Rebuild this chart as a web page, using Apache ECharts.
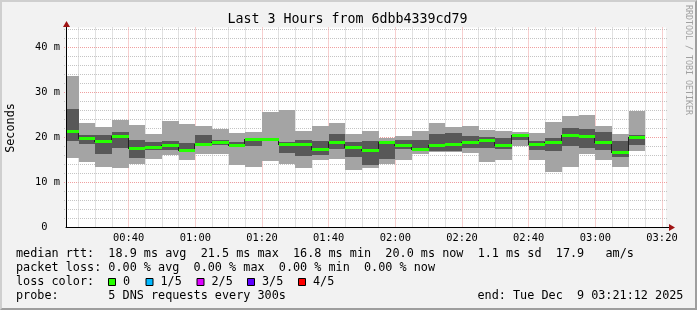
<!DOCTYPE html>
<html><head><meta charset="utf-8">
<script src="https://cdn.jsdelivr.net/npm/echarts@6/dist/echarts.min.js"></script>
<style>
html,body{margin:0;padding:0;background:#f2f2f2;}
#wrap{position:relative;width:697px;height:310px;overflow:hidden;}
#chart{position:absolute;left:0;top:0;width:697px;height:310px;}
#frame{position:absolute;left:0;top:0;width:697px;height:310px;box-sizing:border-box;border-top:2px solid #cfcfcf;border-left:2px solid #cfcfcf;border-right:2px solid #9e9e9e;border-bottom:2px solid #9e9e9e;pointer-events:none;}
</style></head><body>
<div id="wrap"><div id="chart"></div><div id="frame"></div></div>
<script>
// ---- data (ms) ----
const endTime = "03:21:12";
const spanMinutes = 180;
const stepMinutes = 5;
const barEnd = ["00:25","00:30","00:35","00:40","00:45","00:50","00:55","01:00","01:05","01:10","01:15","01:20","01:25","01:30","01:35","01:40","01:45","01:50","01:55","02:00","02:05","02:10","02:15","02:20","02:25","02:30","02:35","02:40","02:45","02:50","02:55","03:00","03:05","03:10","03:15"];
const pingMin = [15.5,14.6,13.5,13.2,14.0,15.3,16.1,14.9,16.4,16.4,13.9,13.5,14.8,14.1,13.3,14.9,15.3,12.8,13.2,14.0,14.9,16.3,16.8,16.8,16.6,14.6,15.0,18.0,14.9,12.4,13.5,16.3,14.9,13.5,17.1];
const ping2   = [19.3,18.6,16.4,17.7,15.5,17.2,17.2,16.9,18.2,18.3,18.0,18.1,19.2,16.6,15.9,16.1,17.5,15.6,13.9,15.3,17.5,17.0,16.9,16.9,17.7,17.6,17.5,19.4,17.2,17.1,18.1,17.7,17.2,15.7,18.3];
const median  = [21.5,19.8,19.2,20.3,17.6,17.9,18.3,17.2,18.6,18.9,18.3,19.6,19.7,18.6,18.5,17.5,18.9,17.8,17.3,18.9,18.4,17.4,18.4,18.6,18.9,19.4,18.3,20.6,18.6,19.1,20.5,20.3,19.0,16.8,20.0];
const ping4   = [26.3,20.6,20.6,21.2,19.4,19.0,19.2,18.8,20.6,19.4,19.0,19.8,19.9,19.1,19.5,19.2,20.8,19.0,19.2,19.1,19.5,19.4,20.8,21.0,20.4,20.2,19.9,20.7,19.2,19.9,22.0,21.8,21.2,19.2,20.5];
const pingMax = [33.6,23.2,22.3,23.9,22.8,20.8,23.7,23.1,22.6,21.9,21.0,21.2,25.7,26.0,21.4,22.5,23.2,20.8,21.4,19.8,20.3,21.4,23.2,22.3,22.5,21.7,21.4,21.2,20.9,23.4,24.7,25.0,22.5,20.8,25.9];
const loss    = [0,0,0,0,0,0,0,0,0,0,0,0,0,0,0,0,0,0,0,0,0,0,0,0,0,0,0,0,0,0,0,0,0,0,0];
const xTickLabels = ["00:40","01:00","01:20","01:40","02:00","02:20","02:40","03:00","03:20"];
const yTickValues = [0,10,20,30,40];
const yMaxValue = 44.44;
const lossLabels = ["0","1/5","2/5","3/5","4/5"];
const lossColors = ["#26ff00","#00b8ff","#dd00ff","#5e00ff","#ff0000"];

// ---- helpers ----
const toMin = s => { const p = s.split(':').map(Number); return p[0]*60 + p[1] + (p[2]||0)/60; };
const endMin = toMin(endTime);
const startMin = endMin - spanMinutes;
const fmt = v => { const m = Math.round(v); return String(Math.floor(m/60)).padStart(2,'0') + ':' + String(m%60).padStart(2,'0'); };
const MONO = "'DejaVu Sans Mono'";
const smokeOuter = '#a4a4a4', smokeInner = '#585858';
const majorGrid = '#f0a0a0', minorGrid = '#c4c4c4';

const barData = barEnd.map((e,i) => {
  const t1 = toMin(e);
  return [t1 - stepMinutes, t1, pingMin[i], ping2[i], median[i], ping4[i], pingMax[i],
          i < median.length-1 ? median[i+1] : median[i], loss[i], i < median.length-1 ? 1 : 0];
});

const majorX = xTickLabels.map(toMin);
const vGrid = [];
for (let t = Math.ceil(startMin/stepMinutes)*stepMinutes; t <= endMin; t += stepMinutes) {
  vGrid.push([t, 0, majorX.indexOf(t) >= 0 ? 1 : 0]);
}
const hGrid = [];
for (let v = 2; v <= yMaxValue; v += 2) {
  hGrid.push([startMin, v, v % 10 === 0 ? 1 : 0]);
}

const xr = (api, t) => Math.round(api.coord([t, 0])[0]);
const yr = (api, v) => Math.round(api.coord([startMin, v])[1]);
const crisp = c => Math.round(c - 0.5) + 0.5;

const chart = echarts.init(document.getElementById('chart'), null, {renderer:'canvas'});

const graphics = [];
function txt(text, x, y, size, opts) {
  opts = opts || {};
  graphics.push({
    type:'text', x:x, y:y, rotation: opts.rotation || 0, z:100, silent:true,
    style:{ text:text, x:0, y:0, font: size + 'px ' + MONO, fill: opts.fill || '#000',
      align: opts.align || 'left', verticalAlign:'middle', textAlign: opts.align || 'left', textVerticalAlign:'middle' }
  });
}
txt('Last 3 Hours from 6dbb4339cd79', 347.5, 19.5, 13.3, {align:'center'});
txt('Seconds', 11, 128, 11.8, {align:'center', rotation: Math.PI/2});
txt('RRDTOOL / TOBI OETIKER', 688, 60, 8.3, {align:'center', rotation: -Math.PI/2, fill:'#a0a0a0'});
txt('median rtt:  18.9 ms avg  21.5 ms max  16.8 ms min  20.0 ms now  1.1 ms sd  17.9   am/s', 16, 254.3, 11.8);
txt('packet loss: 0.00 % avg  0.00 % max  0.00 % min  0.00 % now', 16, 268.3, 11.8);
txt('loss color:', 16, 282.3, 11.8);
const boxX = [108, 145.5, 196.5, 247, 298];
lossLabels.forEach((l, i) => {
  graphics.push({type:'rect', z:100, silent:true, shape:{x:boxX[i]+0.5, y:278.5, width:7, height:7},
    style:{fill: lossColors[i], stroke:'#000', lineWidth:1}});
  txt(l, boxX[i] + 15, 282.3, 11.8);
});
txt('probe:       5 DNS requests every 300s', 16, 296, 11.8);
txt('end: Tue Dec  9 03:21:12 2025', 477.5, 296, 11.8);
// axis extensions + arrows
graphics.push({type:'line', z:100, silent:true, shape:{x1:666, y1:227.5, x2:671, y2:227.5}, style:{stroke:'#000', lineWidth:1}});
graphics.push({type:'polygon', z:101, silent:true, shape:{points:[[669,224],[675,227.5],[669,231]]}, style:{fill:'#a01414'}});
graphics.push({type:'line', z:100, silent:true, shape:{x1:66.5, y1:27.5, x2:66.5, y2:24}, style:{stroke:'#000', lineWidth:1}});
graphics.push({type:'polygon', z:101, silent:true, shape:{points:[[63,27],[66.5,21],[70,27]]}, style:{fill:'#a01414'}});

const option = {
  animation:false,
  backgroundColor:'#f2f2f2',
  grid:{left:66, top:27.5, width:600, height:200, show:true, backgroundColor:'#ffffff', borderWidth:0, containLabel:false, outerBoundsMode:'none'},
  xAxis:{type:'value', min:startMin, max:endMin, z:10,
    axisLine:{show:true, lineStyle:{color:'#000', width:1}},
    axisTick:{show:false}, splitLine:{show:false}, minorSplitLine:{show:false},
    axisLabel:{customValues:majorX, formatter:fmt, color:'#000', fontFamily:'DejaVu Sans Mono', fontSize:10.4, margin:6}},
  yAxis:{type:'value', min:0, max:yMaxValue, interval:10, z:10,
    axisLine:{show:true, lineStyle:{color:'#000', width:1}},
    axisTick:{show:false}, splitLine:{show:false},
    axisLabel:{customValues:yTickValues, formatter:v => v === 0 ? '0  ' : v + ' m', color:'#000', fontFamily:'DejaVu Sans Mono', fontSize:10.4, margin:6}},
  graphic:graphics,
  series:[
    {type:'custom', name:'hgrid', z:1, silent:true, data:hGrid, encode:{x:0, y:1},
      renderItem:(params, api) => {
        const cs = params.coordSys;
        const y = crisp(api.coord([startMin, api.value(1)])[1]);
        return {type:'line', shape:{x1:cs.x-2, y1:y, x2:cs.x+cs.width+2, y2:y},
          style:{stroke: api.value(2) ? majorGrid : minorGrid, lineWidth:1, lineDash:[1,1]}};
      }},
    {type:'custom', name:'vgrid', z:1, silent:true, data:vGrid, encode:{x:0, y:1},
      renderItem:(params, api) => {
        const cs = params.coordSys;
        const x = crisp(api.coord([api.value(0), 0])[0]);
        return {type:'line', shape:{x1:x, y1:cs.y, x2:x, y2:cs.y+cs.height},
          style:{stroke: api.value(2) ? majorGrid : minorGrid, lineWidth:1, lineDash:[1,1]}};
      }},
    {type:'custom', name:'smoke', z:2, silent:true, data:barData, encode:{x:[0,1], y:[2,6]},
      renderItem:(params, api) => {
        const cs = params.coordSys;
        const x0 = Math.max(xr(api, api.value(0)), Math.round(cs.x) + 1);
        const x1 = xr(api, api.value(1));
        const yMin = yr(api, api.value(2)), y2 = yr(api, api.value(3)), y4 = yr(api, api.value(5)), yMx = yr(api, api.value(6));
        return {type:'group', children:[
          {type:'rect', shape:{x:x0, y:yMx, width:x1-x0, height:yMin-yMx}, style:{fill:smokeOuter}},
          {type:'rect', shape:{x:x0, y:y4, width:x1-x0, height:y2-y4}, style:{fill:smokeInner}}
        ]};
      }},
    {type:'custom', name:'medianLine', z:3, silent:true, data:barData, encode:{x:[0,1], y:[4]},
      renderItem:(params, api) => {
        const cs = params.coordSys;
        const x0 = Math.max(xr(api, api.value(0)), Math.round(cs.x) + 1);
        const x1 = xr(api, api.value(1));
        const ym = yr(api, api.value(4)), yn = yr(api, api.value(7));
        const ch = [{type:'rect', shape:{x:x0, y:ym, width:x1-x0, height:1}, style:{fill:'#202020'}}];
        if (api.value(9)) ch.push({type:'rect', shape:{x:x1-1, y:Math.min(ym, yn), width:1, height:Math.abs(yn-ym)+1}, style:{fill:'#202020'}});
        return {type:'group', children:ch};
      }},
    {type:'custom', name:'median', z:4, silent:true, data:barData, encode:{x:[0,1], y:[4]},
      renderItem:(params, api) => {
        const cs = params.coordSys;
        const x0 = Math.max(xr(api, api.value(0)), Math.round(cs.x) + 1);
        const x1 = xr(api, api.value(1));
        const ym = yr(api, api.value(4));
        return {type:'rect', shape:{x:x0, y:ym-1, width:x1-x0, height:3}, style:{fill:lossColors[api.value(8)]}};
      }}
  ]
};
chart.setOption(option);
</script>
</body></html>
